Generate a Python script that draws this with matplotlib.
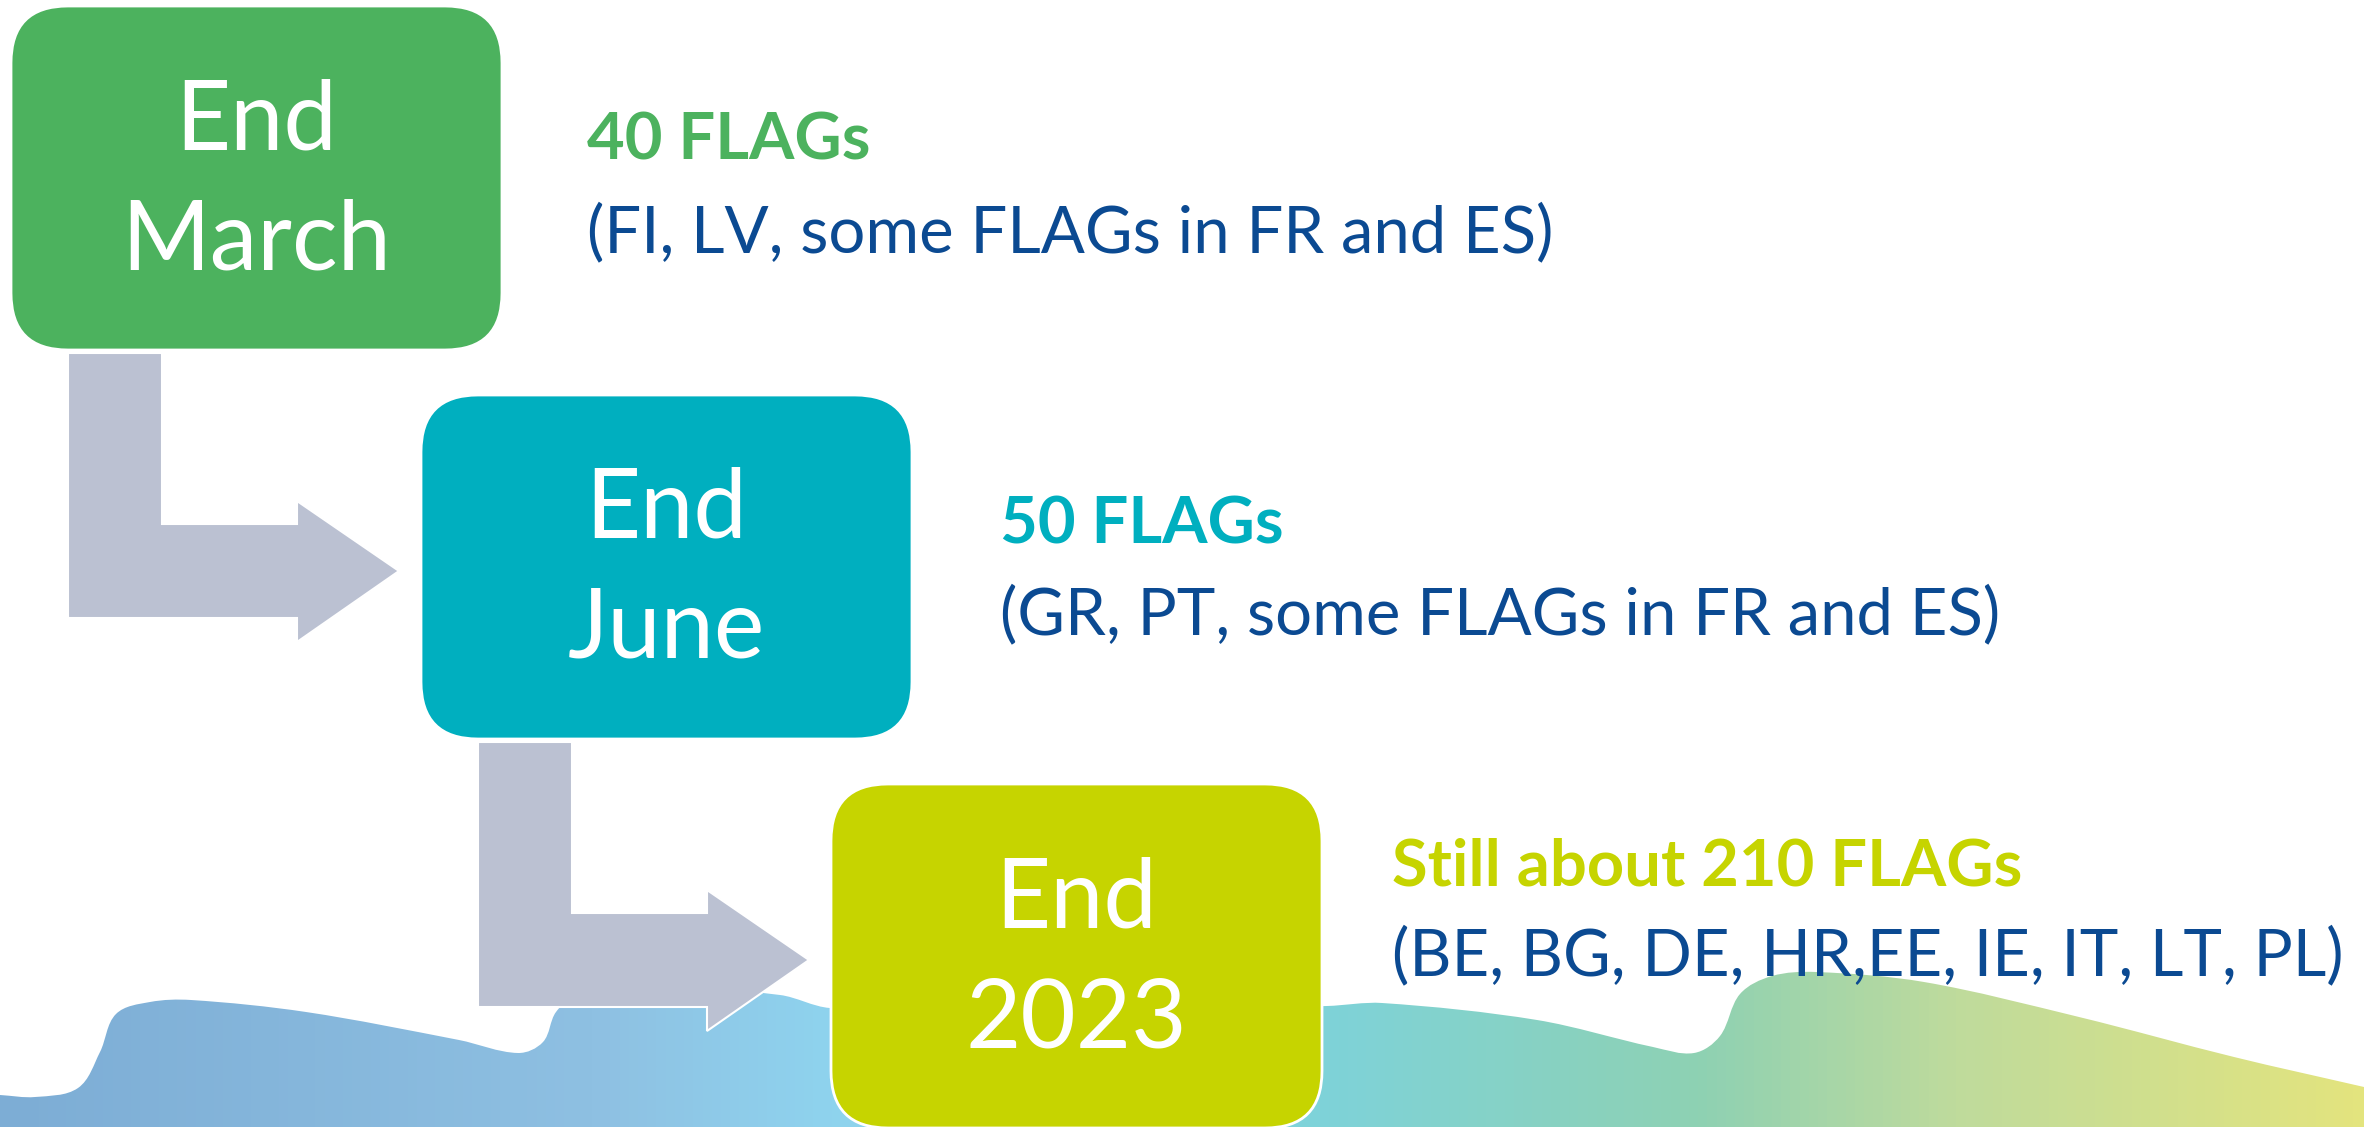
import matplotlib
matplotlib.use("Agg")
import matplotlib.pyplot as plt
import numpy as np
from matplotlib.patches import FancyBboxPatch, Polygon, PathPatch
from matplotlib.path import Path
from matplotlib.colors import LinearSegmentedColormap

W, H = 2364, 1127
FONT = ["Lato", "Open Sans", "DejaVu Sans"]

# timeline content
box_lines = [("End", "March"), ("End", "June"), ("End", "2023")]
box_colors = ["#4CB25E", "#00AFBF", "#C6D400"]
titles = ["40 FLAGs", "50 FLAGs", "Still about 210 FLAGs"]
details = ["(FI, LV, some FLAGs in FR and ES)",
           "(GR, PT, some FLAGs in FR and ES)",
           "(BE, BG, DE, HR,EE, IE, IT, LT, PL)"]
detail_color = "#0B4A92"
arrow_color = "#BBC1D2"

# decorative wave along the bottom (pixel outline of its top edge)
wave_x = [0, 35, 78, 100, 116, 150, 191, 306, 459, 518, 543, 556, 578, 650,
          780, 830, 1000, 1200, 1327, 1382, 1537, 1653, 1694, 1720, 1740, 1772,
          1816, 1924, 2079, 2234, 2364]
wave_y = [1095, 1097, 1088, 1052, 1014, 1002, 1000, 1012, 1040, 1053, 1042, 1012,
          995, 986, 995, 1008, 1010, 1008, 1006, 1003, 1020, 1047, 1053, 1036, 994,
          976, 972, 982, 1017, 1057, 1087]
wave_stops = [(0.0, "#7DADD5"), (0.25, "#8EC0E2"), (0.35, "#8FD3EE"),
              (0.56, "#7ED3D9"), (0.72, "#8ED1B3"), (0.83, "#BFDB9C"), (1.0, "#E3E47E")]

fig = plt.figure(figsize=(W / 100, H / 100), dpi=100)
ax = fig.add_axes([0, 0, 1, 1])
ax.set_xlim(0, W)
ax.set_ylim(H, 0)
ax.axis("off")
renderer = fig.canvas.get_renderer()

# wave: smooth bezier through the outline, filled with a horizontal gradient
P = np.column_stack([wave_x, wave_y]).astype(float)
Pe = np.vstack([2 * P[0] - P[1], P, 2 * P[-1] - P[-2]])
tang = Pe[2:] - Pe[:-2]
tang = tang / np.linalg.norm(tang, axis=1)[:, None]
verts, codes = [P[0]], [Path.MOVETO]
for i in range(len(P) - 1):
    seg = np.linalg.norm(P[i + 1] - P[i]) / 3
    verts += [P[i] + tang[i] * seg, P[i + 1] - tang[i + 1] * seg, P[i + 1]]
    codes += [Path.CURVE4] * 3
verts += [(W + 5, H + 5), (-5, H + 5), P[0]]
codes += [Path.LINETO, Path.LINETO, Path.CLOSEPOLY]
wave = PathPatch(Path(verts, codes), facecolor="none", edgecolor="none")
ax.add_patch(wave)
cmap = LinearSegmentedColormap.from_list("wave", wave_stops)
im = ax.imshow(np.linspace(0, 1, 600)[None, :], cmap=cmap, extent=(0, W, H, 950),
               aspect="auto", zorder=1, interpolation="bilinear")
im.set_clip_path(wave)


def l_arrow(x0, y0):
    return [(x0, y0), (x0 + 94, y0), (x0 + 94, y0 + 171), (x0 + 229, y0 + 171),
            (x0 + 229, y0 + 148), (x0 + 331, y0 + 218), (x0 + 229, y0 + 289),
            (x0 + 229, y0 + 265), (x0, y0 + 265)]


for x0, y0 in [(68, 353), (478, 742)]:
    ax.add_patch(Polygon(l_arrow(x0, y0), closed=True, facecolor=arrow_color,
                         edgecolor="white", linewidth=1.5, zorder=2))


def fit(text, width, weight):
    t = ax.text(0, 0, text, fontsize=40, fontweight=weight, family=FONT)
    w = t.get_window_extent(renderer).width
    t.remove()
    return 40 * width / w


box_size = fit("March", 270, "normal")
title_size = np.mean([fit(titles[0], 276, "bold"), fit(titles[2], 645, "bold")])
detail_size = np.mean([fit(details[0], 968, "normal"), fit(details[1], 1013, "normal"),
                       fit(details[2], 938, "normal")])

box_pos = [(11, 6), (421, 395), (831, 784)]
text_x = [587, 1000, 1392]
title_base = [159, 544, 885]
detail_base = [252, 634, 975]

for i, (bx, by) in enumerate(box_pos):
    ax.add_patch(FancyBboxPatch((bx, by), 491, 344,
                                boxstyle="round,pad=0,rounding_size=57",
                                facecolor=box_colors[i], edgecolor="white",
                                linewidth=2, zorder=3))
    cx = bx + 491 / 2
    for line, off in zip(box_lines[i], (143, 263)):
        ax.text(cx, by + off, line, color="white", fontsize=box_size, family=FONT,
                ha="center", va="baseline", zorder=4)
    ax.text(text_x[i], title_base[i], titles[i], color=box_colors[i], fontsize=title_size,
            fontweight="bold", family=FONT, ha="left", va="baseline", zorder=4)
    ax.text(text_x[i], detail_base[i], details[i], color=detail_color, fontsize=detail_size,
            family=FONT, ha="left", va="baseline", zorder=4)

fig.savefig("out.png", dpi=100, facecolor="white")
